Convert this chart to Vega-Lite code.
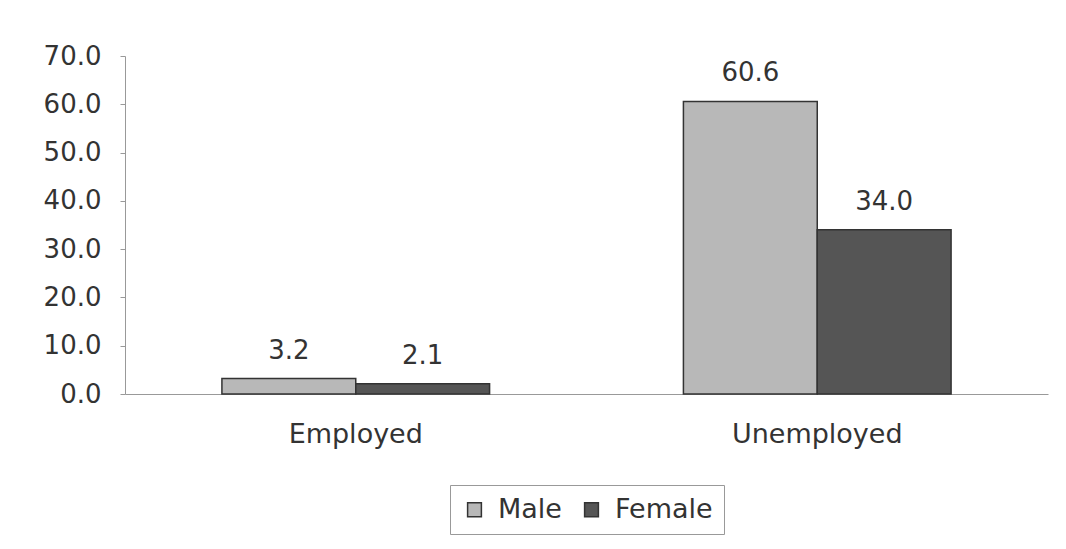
{
  "$schema": "https://vega.github.io/schema/vega-lite/v6.json",
  "width": 923,
  "height": 338,
  "autosize": {"type": "none"},
  "padding": {"left": 125, "top": 56, "right": 18, "bottom": 155},
  "background": "#ffffff",
  "data": {"values": [
    {"status": "Employed", "sex": "Male", "pct": 3.2},
    {"status": "Employed", "sex": "Female", "pct": 2.1},
    {"status": "Unemployed", "sex": "Male", "pct": 60.6},
    {"status": "Unemployed", "sex": "Female", "pct": 34.0}
  ]},
  "config": {
    "font": "DejaVu Sans",
    "view": {"stroke": null},
    "legend": {"layout": {"bottom": {"anchor": "middle"}}}
  },
  "encoding": {
    "x": {"field": "status", "type": "nominal", "sort": ["Employed", "Unemployed"],
      "scale": {"paddingInner": 0.42, "paddingOuter": 0.21},
      "axis": {"title": null, "labelAngle": 0, "labelFontSize": 27, "labelColor": "#333333",
        "labelPadding": 27, "ticks": false, "domainColor": "#999999", "domainWidth": 1}},
    "xOffset": {"field": "sex", "type": "nominal", "sort": ["Male", "Female"]},
    "y": {"field": "pct", "type": "quantitative",
      "scale": {"domain": [0, 70]},
      "axis": {"title": null, "values": [0, 10, 20, 30, 40, 50, 60, 70], "format": ".1f",
        "grid": false, "labelFontSize": 26, "labelColor": "#333333", "labelPadding": 19,
        "tickSize": 5, "tickColor": "#999999", "domainColor": "#999999"}}
  },
  "layer": [
    {
      "mark": {"type": "bar", "stroke": "#333333", "strokeWidth": 1.5},
      "encoding": {
        "color": {"field": "sex", "type": "nominal", "sort": ["Male", "Female"],
          "scale": {"domain": ["Male", "Female"], "range": ["#b8b8b8", "#555555"]},
          "legend": {"title": null, "orient": "bottom", "direction": "horizontal",
            "symbolType": "square", "symbolSize": 190, "symbolStrokeColor": "#333333",
            "symbolStrokeWidth": 1.5, "labelFontSize": 27, "labelColor": "#333333",
            "columnPadding": 16, "labelOffset": 10,
            "strokeColor": "#999999", "padding": 11, "offset": 38}}
      }
    },
    {
      "mark": {"type": "text", "baseline": "bottom", "dy": -15, "fontSize": 26, "color": "#333333"},
      "encoding": {"text": {"field": "pct", "type": "quantitative", "format": ".1f"}}
    }
  ]
}
